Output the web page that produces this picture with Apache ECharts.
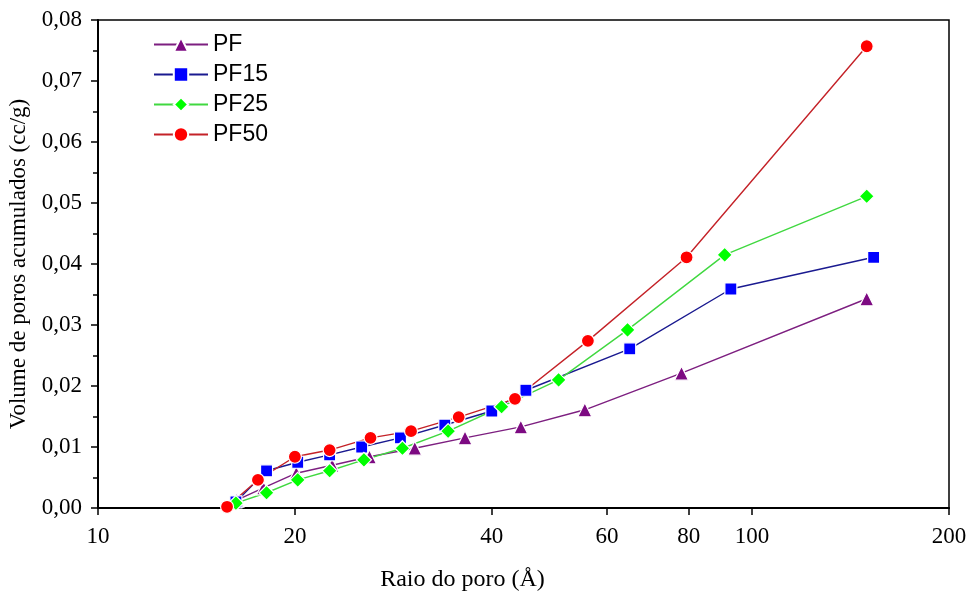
<!DOCTYPE html>
<html lang="pt">
<head>
    <meta charset="UTF-8">
    <title>Volume de poros acumulados</title>
    <script src="https://cdn.jsdelivr.net/npm/echarts@6/dist/echarts.min.js"></script>
    <style>
        html, body { margin: 0; padding: 0; background: #fff; }
    </style>
</head>
<body>
    <div id="main" style="width:970px;height:595px;"></div>
    <script type="text/javascript">
        // raio do poro (Å) e volume acumulado (cc/g) de cada amostra
        var raioPF   = [16.3, 17.9, 20.1, 22.8, 26.0, 30.5, 36.4, 44.3, 55.5, 78.0, 149.7];
        var volPF    = [0.0013, 0.0033, 0.0057, 0.0070, 0.0084, 0.0098, 0.0115, 0.0133, 0.0161, 0.0221, 0.0343];
        var raioPF15 = [16.25, 18.1, 20.2, 22.6, 25.3, 29.0, 33.9, 40.0, 45.1, 65.0, 92.8, 153.4];
        var volPF15  = [0.0010, 0.0061, 0.0075, 0.0087, 0.0100, 0.0115, 0.0136, 0.0159, 0.0193, 0.0261, 0.0359, 0.0411];
        var raioPF25 = [16.25, 18.1, 20.2, 22.6, 25.5, 29.2, 34.3, 41.4, 50.6, 64.5, 90.8, 149.7];
        var volPF25  = [0.0008, 0.0025, 0.0046, 0.0061, 0.0079, 0.0098, 0.0126, 0.0166, 0.0210, 0.0292, 0.0415, 0.0511];
        var raioPF50 = [15.75, 17.56, 20.0, 22.6, 26.1, 30.1, 35.6, 43.4, 56.1, 79.4, 149.7];
        var volPF50  = [0.0002, 0.0046, 0.0084, 0.0095, 0.0115, 0.0126, 0.0149, 0.0179, 0.0274, 0.0411, 0.0757];
        var xTicks = [10, 20, 40, 60, 80, 100, 200];

        function pares(xs, ys) {
            var out = [];
            for (var i = 0; i < xs.length; i++) out.push([xs[i], ys[i]]);
            return out;
        }

        var chart = echarts.init(document.getElementById('main'), null, {renderer: 'canvas'});
        var serif = '"Liberation Serif", "Times New Roman", serif';

        function serie(nome, dados, simbolo, tam, cor, corLinha) {
            return {
                name: nome,
                type: 'line',
                data: dados,
                symbol: simbolo,
                symbolSize: tam,
                showSymbol: true,
                itemStyle: {color: cor, borderColor: '#fff', borderWidth: 1.2},
                lineStyle: {color: corLinha, width: 1.4}
            };
        }

        var option = {
            backgroundColor: '#fff',
            animation: false,
            grid: {
                left: 98, right: 21, top: 20, bottom: 87,
                outerBoundsMode: 'none',
                containLabel: false,
                show: true, borderColor: '#000', borderWidth: 1.5,
                backgroundColor: 'transparent'
            },
            legend: {
                orient: 'vertical',
                left: 153,
                top: 33,
                padding: 0,
                itemWidth: 54,
                itemHeight: 18,
                itemGap: 7,
                textStyle: {fontFamily: '"Liberation Sans", Arial, sans-serif', fontSize: 23, color: '#000'},
                data: ['PF', 'PF15', 'PF25', 'PF50']
            },
            xAxis: {
                type: 'log',
                logBase: 10,
                min: 10,
                max: 200,
                name: 'Raio do poro (Å)',
                nameLocation: 'middle',
                nameGap: 60,
                nameTextStyle: {fontFamily: serif, fontSize: 24, color: '#000', padding: [0, 122, 0, 0]},
                axisLine: {show: true, lineStyle: {color: '#000', width: 2}},
                axisTick: {show: true, inside: false, length: 7, lineStyle: {color: '#000', width: 1.5}, customValues: xTicks},
                axisLabel: {fontFamily: serif, fontSize: 23, color: '#000', margin: 17, customValues: xTicks},
                minorTick: {show: false},
                splitLine: {show: false}
            },
            yAxis: {
                type: 'value',
                min: 0,
                max: 0.08,
                interval: 0.01,
                name: 'Volume de poros acumulados (cc/g)',
                nameLocation: 'middle',
                nameGap: 64,
                nameTextStyle: {fontFamily: serif, fontSize: 23, color: '#000'},
                axisLine: {show: true, lineStyle: {color: '#000', width: 2}},
                axisTick: {show: true, inside: false, length: 7, lineStyle: {color: '#000', width: 1.5}},
                minorTick: {show: true, splitNumber: 2, length: 5, lineStyle: {color: '#000', width: 1.5}},
                axisLabel: {
                    fontFamily: serif, fontSize: 23, color: '#000', margin: 16,
                    formatter: function (v) { return v.toFixed(2).replace('.', ','); }
                },
                splitLine: {show: false}
            },
            series: [
                serie('PF', pares(raioPF, volPF), 'triangle', 14, '#7d0a82', '#7d1f80'),
                serie('PF15', pares(raioPF15, volPF15), 'rect', 12, '#0000ff', '#1a1a90'),
                serie('PF25', pares(raioPF25, volPF25), 'diamond', 15, '#00ff00', '#40d840'),
                serie('PF50', pares(raioPF50, volPF50), 'circle', 13, '#ff0000', '#c42228')
            ]
        };
        chart.setOption(option);
    </script>
</body>
</html>
